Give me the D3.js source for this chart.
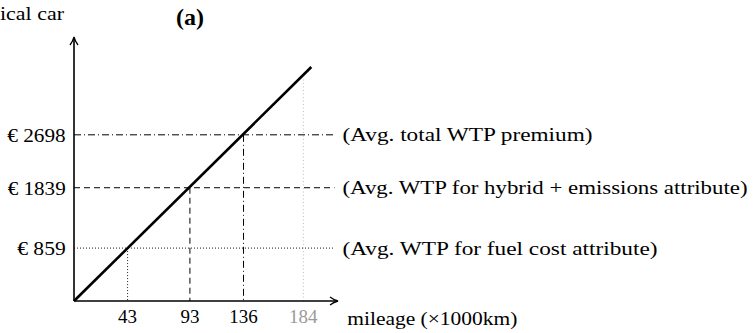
<!DOCTYPE html>
<html>
<head>
<meta charset="utf-8">
<script src="https://cdn.jsdelivr.net/npm/d3@7"></script>
<style>
  body { margin: 0; background: #fff; }
  svg { display: block; }
  text { font-family: "Liberation Serif", "DejaVu Serif", serif; fill: #000; }
</style>
</head>
<body>
<svg id="graph"></svg>
<script>
// Données
const kilometrages = [43, 93, 136];           // intersections (x1000 km)
const primes = [859, 1839, 2698];             // WTP moyen (euros)
const etiquettes = [
  "(Avg. WTP for fuel cost attribute)",
  "(Avg. WTP for hybrid + emissions attribute)",
  "(Avg. total WTP premium)"
];
const styles = ["dotted", "dashed", "dashdot"];
const kmGris = 184;                           // repère gris
const droiteKm = [0, 190.4];                  // droite WTP / kilométrage
const droiteWtp = [0, 3799];

const largeur = 756, hauteur = 333;
const svg = d3.select("#graph").attr("width", largeur).attr("height", hauteur);

// Échelles
const x = d3.scaleLinear().domain([0, 211]).range([74, 337]);
const y = d3.scaleLinear().domain([0, 4270]).range([301, 38]);

const tirets = { dotted: "1 2", dashed: "6 4", dashdot: "7 3 1 3" };
const epaisseurs = { dotted: 0.9, dashed: 1, dashdot: 1 };
// largeurs des textes (style Computer Modern, plus large)
const largeursEtiq = [315, 405, 250];
const largeursGrad = [48.5, 58, 58.4];
const taille = 19;

// Flèche style TikZ
svg.append("defs").append("marker")
  .attr("id", "fleche")
  .attr("viewBox", "0 0 10 10")
  .attr("refX", 8).attr("refY", 5)
  .attr("markerWidth", 10).attr("markerHeight", 10)
  .attr("markerUnits", "userSpaceOnUse")
  .attr("orient", "auto")
  .append("path")
  .attr("d", "M1,1 Q5,4 9,5 Q5,6 1,9")
  .attr("fill", "none").attr("stroke", "#000").attr("stroke-width", 1.3);

// Repère gris (184)
svg.append("line")
  .attr("x1", x(kmGris)).attr("x2", x(kmGris))
  .attr("y1", y(0)).attr("y2", y(3620))
  .attr("stroke", "#bdbdbd").attr("stroke-width", 1)
  .attr("stroke-dasharray", "1 2.5");

// Lignes horizontales et verticales
primes.forEach((p, i) => {
  const st = styles[i];
  svg.append("line")
    .attr("x1", x(0)).attr("x2", x(209))
    .attr("y1", y(p)).attr("y2", y(p))
    .attr("stroke", "#000").attr("stroke-width", epaisseurs[st])
    .attr("stroke-dasharray", tirets[st]);
  svg.append("line")
    .attr("x1", x(kilometrages[i])).attr("x2", x(kilometrages[i]))
    .attr("y1", y(p)).attr("y2", y(0))
    .attr("stroke", "#000").attr("stroke-width", epaisseurs[st])
    .attr("stroke-dasharray", tirets[st]);
  // étiquette à droite
  svg.append("text")
    .attr("x", 342.5).attr("y", y(p) + 6.5)
    .attr("font-size", taille)
    .attr("textLength", largeursEtiq[i])
    .attr("lengthAdjust", "spacingAndGlyphs")
    .text(etiquettes[i]);
  // graduation y
  svg.append("text")
    .attr("x", 65.7 - largeursGrad[i]).attr("y", y(p) + 7)
    .attr("font-size", taille)
    .attr("textLength", largeursGrad[i])
    .attr("lengthAdjust", "spacingAndGlyphs")
    .text("€ " + p);
});

// Graduations x
const graduations = kilometrages.concat([kmGris]);
svg.selectAll(".gradx")
  .data(graduations)
  .enter().append("text")
  .attr("class", "gradx")
  .attr("x", d => x(d)).attr("y", 323.3)
  .attr("text-anchor", "middle")
  .attr("font-size", taille)
  .style("fill", d => d === kmGris ? "#9a9a9a" : "#000")
  .text(d => d);

// Droite principale
const ligne = d3.line().x(d => x(d[0])).y(d => y(d[1]));
svg.append("path")
  .datum(d3.zip(droiteKm, droiteWtp))
  .attr("d", ligne)
  .attr("fill", "none")
  .attr("stroke", "#000")
  .attr("stroke-width", 2.6);

// Axes
svg.append("line")
  .attr("x1", x(0)).attr("y1", y(0)).attr("x2", x(0)).attr("y2", y(4270))
  .attr("stroke", "#000").attr("stroke-width", 1.6)
  .attr("marker-end", "url(#fleche)");
svg.append("line")
  .attr("x1", x(0)).attr("y1", y(0)).attr("x2", x(211)).attr("y2", y(0))
  .attr("stroke", "#000").attr("stroke-width", 1.6)
  .attr("marker-end", "url(#fleche)");

// Titres
svg.append("text")
  .attr("x", 0).attr("y", 19.5)
  .attr("font-size", taille)
  .attr("textLength", 64)
  .attr("lengthAdjust", "spacingAndGlyphs")
  .text("ical car");
svg.append("text")
  .attr("x", 347.3).attr("y", 325)
  .attr("font-size", taille)
  .attr("textLength", 170)
  .attr("lengthAdjust", "spacingAndGlyphs")
  .text("mileage (×1000km)");
svg.append("text")
  .attr("x", 176).attr("y", 25)
  .attr("font-size", 24)
  .attr("font-weight", "bold")
  .text("(a)");
</script>
</body>
</html>
